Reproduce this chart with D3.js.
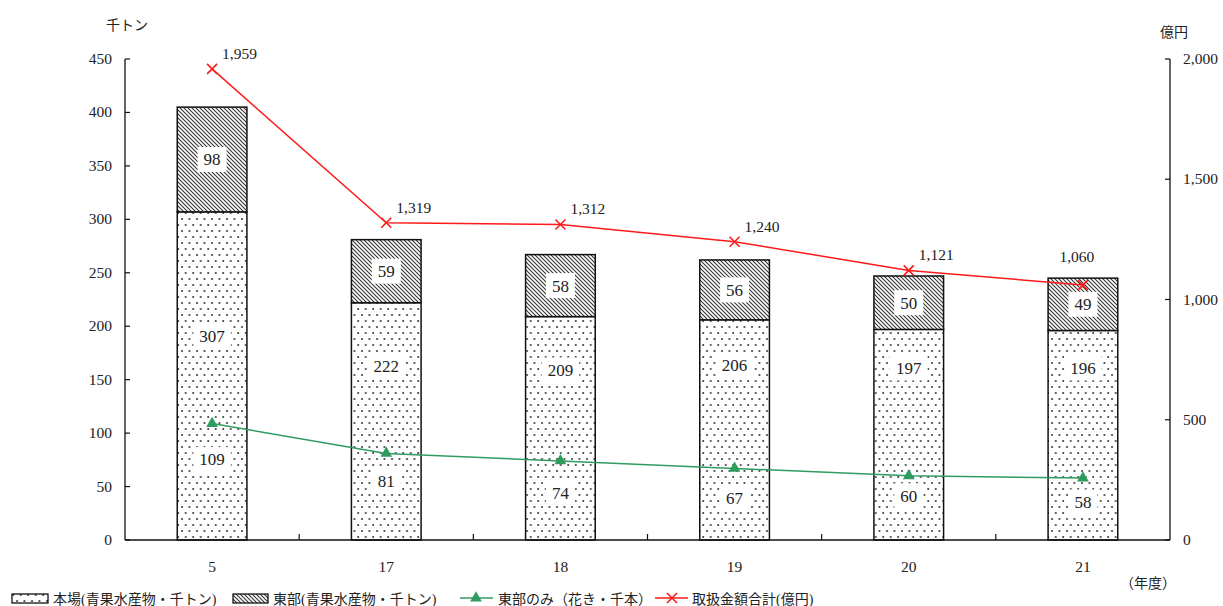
<!DOCTYPE html>
<html>
<head>
<meta charset="utf-8">
<script src="https://cdn.jsdelivr.net/npm/d3@7"></script>
<style>
  body { margin: 0; background: #fff; }
  text { font-family: "Liberation Serif", "Noto Sans CJK JP", serif; fill: #222; }
</style>
</head>
<body>
<svg id="chart" width="1223" height="606"></svg>
<script>
// Fiscal years
const years = ["5", "17", "18", "19", "20", "21"];
// Main market, fresh produce & seafood (thousand tonnes)
const honjo = [307, 222, 209, 206, 197, 196];
// Eastern market, fresh produce & seafood (thousand tonnes)
const tobu = [98, 59, 58, 56, 50, 49];
// Eastern market only, flowers (thousand stems)
const flowers = [109, 81, 74, 67, 60, 58];
// Total transaction value (100 million yen)
const amount = [1959, 1319, 1312, 1240, 1121, 1060];

const leftTicks = [0, 50, 100, 150, 200, 250, 300, 350, 400, 450];
const rightTicks = [0, 500, 1000, 1500, 2000];

const svg = d3.select("#chart");
const plot = { left: 125, right: 1170, top: 59, bottom: 540 };

const x = d3.scaleBand().domain(years).range([plot.left, plot.right]).paddingInner(0).paddingOuter(0);
const barW = x.bandwidth() * 0.4;
const yL = d3.scaleLinear().domain([0, 450]).range([plot.bottom, plot.top]);
const yR = d3.scaleLinear().domain([0, 2000]).range([plot.bottom, plot.top]);

// Fill patterns
const defs = svg.append("defs");
const dots = defs.append("pattern").attr("id", "dots").attr("patternUnits", "userSpaceOnUse")
  .attr("width", 7.5).attr("height", 12);
dots.append("rect").attr("width", 7.5).attr("height", 12).attr("fill", "#fff");
dots.append("circle").attr("cx", 2).attr("cy", 3).attr("r", 1).attr("fill", "#333");
dots.append("circle").attr("cx", 5.75).attr("cy", 9).attr("r", 1).attr("fill", "#333");

const hatch = defs.append("pattern").attr("id", "hatch").attr("patternUnits", "userSpaceOnUse")
  .attr("width", 4).attr("height", 4);
hatch.append("rect").attr("width", 4).attr("height", 4).attr("fill", "#fff");
hatch.append("path").attr("d", "M-1,-1 L5,5 M-1,3 L1,5 M3,-1 L5,1")
  .attr("stroke", "#333").attr("stroke-width", 1.1);

// Stacked bars
const gBars = svg.append("g");
years.forEach((yr, i) => {
  const cx = x(yr) + x.bandwidth() / 2;
  gBars.append("rect")
    .attr("x", cx - barW / 2).attr("y", yL(honjo[i]))
    .attr("width", barW).attr("height", yL(0) - yL(honjo[i]))
    .attr("fill", "url(#dots)").attr("stroke", "#111").attr("stroke-width", 1.5);
  gBars.append("rect")
    .attr("x", cx - barW / 2).attr("y", yL(honjo[i] + tobu[i]))
    .attr("width", barW).attr("height", yL(honjo[i]) - yL(honjo[i] + tobu[i]))
    .attr("fill", "url(#hatch)").attr("stroke", "#111").attr("stroke-width", 1.5);
});

// Axes
const axisColor = "#111";
const gAx = svg.append("g");
gAx.append("line").attr("x1", plot.left).attr("x2", plot.left).attr("y1", plot.top).attr("y2", plot.bottom)
  .attr("stroke", axisColor).attr("stroke-width", 1.3);
gAx.append("line").attr("x1", plot.right).attr("x2", plot.right).attr("y1", plot.top).attr("y2", plot.bottom)
  .attr("stroke", axisColor).attr("stroke-width", 1.3);
gAx.append("line").attr("x1", plot.left).attr("x2", plot.right).attr("y1", plot.bottom).attr("y2", plot.bottom)
  .attr("stroke", axisColor).attr("stroke-width", 1.3);

leftTicks.forEach(t => {
  gAx.append("line").attr("x1", plot.left).attr("x2", plot.left + 5).attr("y1", yL(t)).attr("y2", yL(t))
    .attr("stroke", axisColor).attr("stroke-width", 1.2);
  gAx.append("text").attr("x", 112).attr("y", yL(t) + 5).attr("text-anchor", "end")
    .attr("font-size", 15.5).text(t);
});
rightTicks.forEach(t => {
  gAx.append("line").attr("x1", plot.right - 5).attr("x2", plot.right).attr("y1", yR(t)).attr("y2", yR(t))
    .attr("stroke", axisColor).attr("stroke-width", 1.2);
  gAx.append("text").attr("x", 1183).attr("y", yR(t) + 5).attr("text-anchor", "start")
    .attr("font-size", 15.5).text(d3.format(",")(t));
});
years.forEach((yr, i) => {
  if (i > 0) {
    gAx.append("line").attr("x1", x(yr)).attr("x2", x(yr)).attr("y1", plot.bottom - 6).attr("y2", plot.bottom)
      .attr("stroke", axisColor).attr("stroke-width", 1.2);
  }
  gAx.append("text").attr("x", x(yr) + x.bandwidth() / 2).attr("y", 572).attr("text-anchor", "middle")
    .attr("font-size", 15.5).text(yr);
});

// Axis titles
svg.append("text").attr("x", 106).attr("y", 30).attr("font-size", 14).text("千トン");
svg.append("text").attr("x", 1160).attr("y", 37).attr("font-size", 14).text("億円");
svg.append("text").attr("x", 1120).attr("y", 588).attr("font-size", 14).text("（年度）");

// Lines
const cxOf = i => x(years[i]) + x.bandwidth() / 2;
const line = d3.line();
const green = "#2e9b5f";
const red = "#ff1a1a";

svg.append("path").attr("d", line(flowers.map((v, i) => [cxOf(i), yL(v)])))
  .attr("fill", "none").attr("stroke", green).attr("stroke-width", 1.5);
const tri = d3.symbol().type(d3.symbolTriangle).size(60);
flowers.forEach((v, i) => {
  svg.append("path").attr("d", tri()).attr("transform", `translate(${cxOf(i)},${yL(v)})`).attr("fill", green);
});

svg.append("path").attr("d", line(amount.map((v, i) => [cxOf(i), yR(v)])))
  .attr("fill", "none").attr("stroke", red).attr("stroke-width", 1.5);
amount.forEach((v, i) => {
  const px = cxOf(i), py = yR(v), s = 5;
  svg.append("path").attr("d", `M${px - s},${py - s}L${px + s},${py + s}M${px - s},${py + s}L${px + s},${py - s}`)
    .attr("stroke", red).attr("stroke-width", 1.6);
});

// Boxed labels inside bars
function boxLabel(cx, cy, txt) {
  const w = txt.length * 8.5 + 12, h = 25;
  svg.append("rect").attr("x", cx - w / 2).attr("y", cy - h / 2).attr("width", w).attr("height", h).attr("fill", "#fff");
  svg.append("text").attr("x", cx).attr("y", cy + 6).attr("text-anchor", "middle").attr("font-size", 17).text(txt);
}
// anchor heights (left-axis units) for the lower segment labels
const honjoLabelAt = [191, 163, 159, 164, 161, 161];
const flowerLabelDy = [36, 28, 32, 30, 20, 24];
years.forEach((yr, i) => {
  boxLabel(cxOf(i), yL(honjo[i] + tobu[i] / 2), String(tobu[i]));
  boxLabel(cxOf(i), yL(honjoLabelAt[i]), String(honjo[i]));
  boxLabel(cxOf(i), yL(flowers[i]) + flowerLabelDy[i], String(flowers[i]));
});

// Value labels for the total amount
amount.forEach((v, i) => {
  const last = i === amount.length - 1;
  svg.append("text")
    .attr("x", last ? cxOf(i) - 6 : cxOf(i) + 10)
    .attr("y", last ? yR(v) - 23 : yR(v) - 10)
    .attr("text-anchor", last ? "middle" : "start")
    .attr("font-size", 15.5).text(d3.format(",")(v));
});

// Legend
const lg = svg.append("g").attr("transform", "translate(0,598)");
lg.append("rect").attr("x", 12).attr("y", -4).attr("width", 36).attr("height", 9)
  .attr("fill", "url(#dots)").attr("stroke", "#111").attr("stroke-width", 1.3);
lg.append("text").attr("x", 53).attr("y", 6).attr("font-size", 14).text("本場(青果水産物・千トン)");
lg.append("rect").attr("x", 233).attr("y", -4).attr("width", 35).attr("height", 9)
  .attr("fill", "url(#hatch)").attr("stroke", "#111").attr("stroke-width", 1.3);
lg.append("text").attr("x", 273).attr("y", 6).attr("font-size", 14).text("東部(青果水産物・千トン)");
lg.append("line").attr("x1", 460).attr("x2", 493).attr("y1", 0).attr("y2", 0).attr("stroke", green).attr("stroke-width", 1.5);
lg.append("path").attr("d", tri()).attr("transform", "translate(476,0)").attr("fill", green);
lg.append("text").attr("x", 498).attr("y", 6).attr("font-size", 14).text("東部のみ（花き・千本）");
lg.append("line").attr("x1", 655).attr("x2", 688).attr("y1", 0).attr("y2", 0).attr("stroke", red).attr("stroke-width", 1.5);
lg.append("path").attr("d", "M667,-5L677,5M667,5L677,-5").attr("stroke", red).attr("stroke-width", 1.6);
lg.append("text").attr("x", 692).attr("y", 6).attr("font-size", 14).text("取扱金額合計(億円)");
</script>
</body>
</html>
